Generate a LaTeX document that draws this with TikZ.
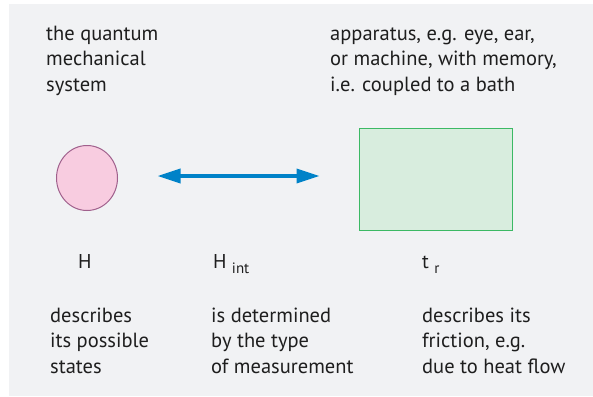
\documentclass[tikz,border=0pt]{standalone}
\usepackage{fontspec}
\setmainfont{PT Sans}
\usetikzlibrary{shapes.geometric,arrows.meta,positioning}
\definecolor{panelgrey}{RGB}{241,242,244}
\definecolor{sysfill}{RGB}{248,204,224}
\definecolor{sysdraw}{RGB}{160,96,140}
\definecolor{appfill}{RGB}{216,237,222}
\definecolor{appdraw}{RGB}{60,185,100}
\definecolor{linkblue}{RGB}{0,130,200}
\definecolor{inkgrey}{RGB}{30,30,30}

\begin{document}
\begin{tikzpicture}[x=1pt,y=-1pt,
  system/.style={ellipse,draw=sysdraw,fill=sysfill,line width=1pt,
                 minimum width=61pt,minimum height=65pt,inner sep=0pt},
  apparatus/.style={rectangle,draw=appdraw,fill=appfill,line width=1pt,
                    minimum width=153pt,minimum height=102pt,inner sep=0pt},
  link/.style={draw=linkblue,line width=3.5pt,
               {Triangle[length=23pt,width=14pt]}-{Triangle[length=23pt,width=14pt]},
               shorten <=39.5pt,shorten >=39pt},
  % base = baseline of the last line
  txt/.style={anchor=base west,align=left,inner sep=0pt,text=inkgrey,
              font=\fontsize{20.5}{25.5}\selectfont},
  sym/.style={anchor=base west,inner sep=0pt,text=inkgrey,
              font=\fontsize{20}{24}\selectfont}
]
  \useasboundingbox (0,0) rectangle (593,396);
  \fill[panelgrey] (9,4) rectangle (593,396);

  %% ---- top captions ----
  \node[txt] (systxt) at (46,91) {the quantum\\mechanical\\system};
  \node[txt] (apptxt) at (330,91) {apparatus, e.g. eye, ear,\\or machine, with memory,\\i.e. coupled to a bath};

  %% ---- system and apparatus ----
  \node[system] (sys) at (87,178) {};
  \node[apparatus] (app) at (435.5,179) {};

  % interaction (both ways), kept level
  \draw[link] ([yshift=2pt]sys.east) -- ([yshift=2pt]sys.east -| app.west);

  %% ---- symbols ----
  \node[sym] (ham) at (78,268) {H};
  \node[sym] (hint) at (213,268) {H \raisebox{-5pt}{\fontsize{15}{18}\selectfont int}};
  \node[sym] (trel) at (422,268) {t \raisebox{-5pt}{\fontsize{15}{18}\selectfont r}};

  %% ---- bottom captions ----
  \node[txt] (hamtxt) at (50,373) {describes\\its possible\\states};
  \node[txt] (hinttxt) at (211,373) {is determined\\by the type\\of measurement};
  \node[txt] (treltxt) at (422,373) {describes its\\friction, e.g.\\due to heat flow};
\end{tikzpicture}
\end{document}
